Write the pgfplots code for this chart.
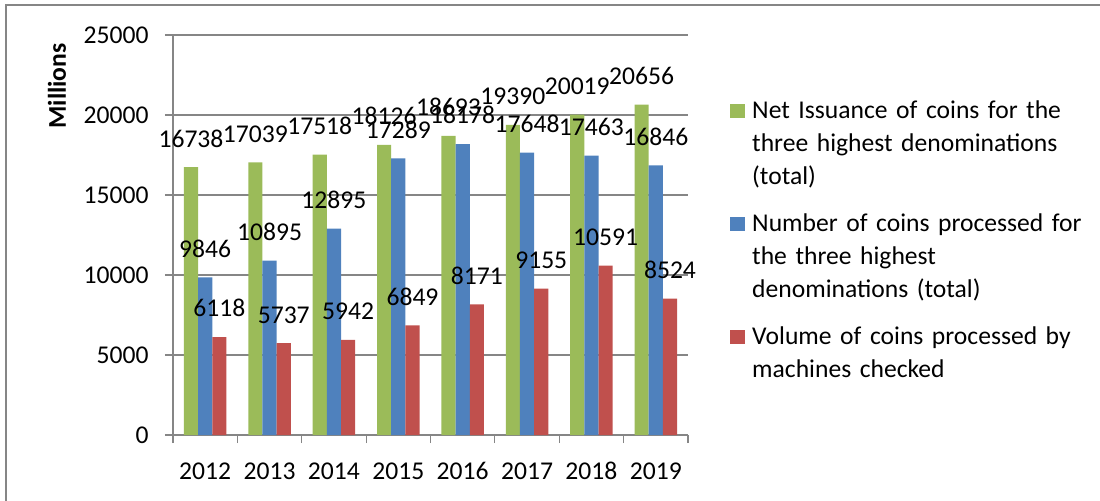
\documentclass[border=0pt]{standalone}
\usepackage{pgfplots}
\pgfplotsset{compat=1.18}
\usepackage{fontspec}
\setmainfont{Carlito}
\definecolor{cgreen}{HTML}{9BBB59}
\definecolor{cblue}{HTML}{4F81BD}
\definecolor{cred}{HTML}{C0504D}
\definecolor{gridgray}{HTML}{868686}
\pgfplotsset{/pgf/number format/.cd, 1000 sep={}, assume math mode=true}
\begin{document}
\begin{tikzpicture}[font=\fontsize{12.8}{15}\selectfont]
\useasboundingbox (-86.5pt,-32.5pt) rectangle (463.5pt,217.5pt);
\draw[gridgray, line width=1pt] (-83.5pt,-45pt) rectangle (475pt,215pt);
\begin{axis}[
  scale only axis, width=257.5pt, height=200pt,
  at={(0,0)}, anchor=south west,
  ybar=0pt, bar width=7.1pt,
  xmin=-0.5, xmax=7.5, ymin=0, ymax=25000,
  ytick={0,5000,...,25000},
  scaled y ticks=false,
  xtick={0,...,7}, xticklabels={2012,2013,2014,2015,2016,2017,2018,2019},
  axis x line*=bottom, axis y line*=left,
  axis line style={draw=gridgray, line width=0.6pt},
  ymajorgrids, grid style={draw=gridgray, line width=0.6pt},
  tick align=outside, major tick length=4pt,
  major y tick style={draw=gridgray, line width=0.6pt},
  major x tick style={draw=none},
  extra x ticks={-0.5,0.5,...,7.5}, extra x tick labels={},
  extra x tick style={grid=none, major tick length=4pt, tick align=outside,
     major x tick style={draw=gridgray, line width=0.6pt}},
  yticklabel style={anchor=east, inner sep=0pt, xshift=-8pt},
  xticklabel style={anchor=north, inner sep=0pt, yshift=-9.5pt},
  nodes near coords,
  every node near coord/.append style={anchor=south, inner sep=0pt, yshift=9.8pt, text=black},
  legend cell align=left,
  legend image code/.code={\path[draw=none, fill=none] (0pt,-21.15pt) rectangle (7.4pt,21.15pt);
     \fill[#1] (0pt,13.75pt) rectangle (7.4pt,21.15pt);},
  legend style={at={(axis description cs:1.0816,0.8375)}, anchor=north west,
     draw=none, fill=none, inner sep=0pt, column sep=3.5pt, row sep=11pt,
     nodes={inner sep=0pt, text width=172pt, text height=9pt, text depth=36.5pt, align=left, font=\fontsize{12.8}{16.5}\selectfont}},
]
\addplot[fill=cgreen, draw=none] coordinates {(0,16738) (1,17039) (2,17518) (3,18126) (4,18693) (5,19390) (6,20019) (7,20656)};
\addplot[fill=cblue, draw=none] coordinates {(0,9846) (1,10895) (2,12895) (3,17289) (4,18178) (5,17648) (6,17463) (7,16846)};
\addplot[fill=cred, draw=none] coordinates {(0,6118) (1,5737) (2,5942) (3,6849) (4,8171) (5,9155) (6,10591) (7,8524)};
\legend{Net Issuance of coins for the\\three highest denominations\\(total),
        Number of coins processed for\\the three highest\\denominations (total),
        Volume of coins processed by\\machines checked}
\end{axis}
\node[rotate=90, font=\fontsize{12.8}{15}\selectfont\bfseries] at (-58pt,174.5pt) {Millions};
\end{tikzpicture}
\end{document}
